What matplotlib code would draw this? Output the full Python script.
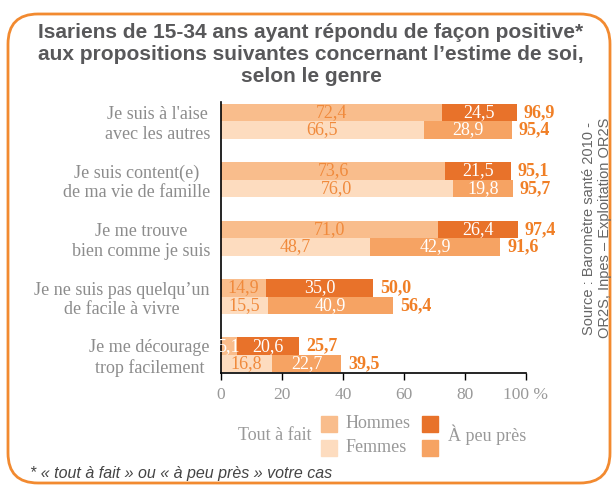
"""
Estime de soi des Isariens de 15-34 ans, selon le genre.
"""

import matplotlib
matplotlib.use("Agg")
import matplotlib.pyplot as plt
from matplotlib.patches import FancyBboxPatch, Rectangle

categories = [
    "Je suis à l'aise\navec les autres",
    "Je suis content(e)\nde ma vie de famille",
    "Je me trouve\nbien comme je suis",
    "Je ne suis pas quelqu’un\nde facile à vivre",
    "Je me décourage\ntrop facilement",
]
hommes_tout = [72.4, 73.6, 71.0, 14.9, 5.1]
hommes_peu = [24.5, 21.5, 26.4, 35.0, 20.6]
hommes_total = [96.9, 95.1, 97.4, 50.0, 25.7]
femmes_tout = [66.5, 76.0, 48.7, 15.5, 16.8]
femmes_peu = [28.9, 19.8, 42.9, 40.9, 22.7]
femmes_total = [95.4, 95.7, 91.6, 56.4, 39.5]
xticks = [0, 20, 40, 60, 80, 100]
xtick_labels = ["0", "20", "40", "60", "80", "100 %"]

# couleurs
C_H_TOUT = "#F9BD8C"
C_F_TOUT = "#FDDCBF"
C_H_PEU = "#E8722A"
C_F_PEU = "#F6A363"
C_TXT = "#F08A3C"
C_TOTAL = "#F07F26"
C_GREY = "#999999"
C_BORDER = "#F28A30"

SERIF = "Liberation Serif"
SANS = "Liberation Sans"


def fmt(v):
    return f"{v:.1f}".replace(".", ",")


fig = plt.figure(figsize=(6.13, 4.86), dpi=100)

# cadre arrondi (coordonnées en pixels)
bg = fig.add_axes([0, 0, 1, 1])
bg.set_xlim(0, 613)
bg.set_ylim(486, 0)
bg.axis("off")
bg.add_patch(FancyBboxPatch(
    (8, 14), 602, 469,
    boxstyle="round,pad=0,rounding_size=30",
    facecolor="white", edgecolor=C_BORDER, linewidth=2,
))

bg.text(
    311, 54,
    "Isariens de 15-34 ans ayant répondu de façon positive*\n"
    "aux propositions suivantes concernant l’estime de soi,\n"
    "selon le genre",
    ha="center", va="center", fontsize=15, fontweight="bold",
    family=SANS, color="#58585A", linespacing=1.2,
)

bg.text(
    30, 473, "* « tout à fait » ou « à peu près » votre cas",
    ha="left", va="center", fontsize=11.5, style="italic",
    family=SANS, color="#444444",
)

bg.text(
    597, 228, "Source : Baromètre santé 2010 -\nOR2S, Inpes – Exploitation OR2S",
    ha="center", va="center", rotation=90, fontsize=10.5,
    family=SANS, color="#666666", linespacing=1.1,
)

# légende
bg.text(311, 435, "Tout à fait", ha="right", va="center",
        fontsize=13, family=SERIF, color=C_GREY)
bg.add_patch(Rectangle((321, 416), 16, 16, color=C_H_TOUT))
bg.add_patch(Rectangle((321, 440), 16, 16, color=C_F_TOUT))
bg.text(346, 423, "Hommes", ha="left", va="center",
        fontsize=13, family=SERIF, color=C_GREY)
bg.text(346, 447, "Femmes", ha="left", va="center",
        fontsize=13, family=SERIF, color=C_GREY)
bg.add_patch(Rectangle((422, 416), 16, 16, color=C_H_PEU))
bg.add_patch(Rectangle((422, 440), 16, 16, color=C_F_PEU))
bg.text(448, 435, "À peu près", ha="left", va="center",
        fontsize=13, family=SERIF, color=C_GREY)

# graphique
ax = fig.add_axes([0.3605, 0.2325, 0.4975, 0.5575])
ax.patch.set_alpha(0)

h = 0.3
y = list(range(len(categories)))
y_h = [i - h / 2 for i in y]
y_f = [i + h / 2 for i in y]

ax.barh(y_h, hommes_tout, height=h, color=C_H_TOUT)
ax.barh(y_h, hommes_peu, left=hommes_tout, height=h, color=C_H_PEU)
ax.barh(y_f, femmes_tout, height=h, color=C_F_TOUT)
ax.barh(y_f, femmes_peu, left=femmes_tout, height=h, color=C_F_PEU)

for yy, tout, peu, tot in [(y_h[i], hommes_tout[i], hommes_peu[i], hommes_total[i]) for i in y] + \
        [(y_f[i], femmes_tout[i], femmes_peu[i], femmes_total[i]) for i in y]:
    ax.text(tout / 2, yy, fmt(tout), ha="center", va="center",
            fontsize=13, family=SERIF,
            color="white" if tout < 10 else C_TXT)
    ax.text(tout + peu / 2, yy, fmt(peu), ha="center", va="center",
            fontsize=13, family=SERIF, color="white")
    ax.annotate(fmt(tot), xy=(tot, yy), xytext=(5, 0),
                textcoords="offset points", ha="left", va="center",
                fontsize=13, fontweight="bold", family=SERIF, color=C_TOTAL)

ax.set_xlim(0, 100)
ax.set_ylim(4.31, -0.33)

ax.set_xticks(xticks)
ax.set_xticklabels(xtick_labels, fontsize=12.5, family=SERIF, color=C_GREY)
ax.set_yticks(y)
ax.set_yticklabels(categories, fontsize=13, family=SERIF, color="#8C8C8C",
                   multialignment="center")

ax.tick_params(axis="y", length=0, pad=8)
ax.tick_params(axis="x", length=5, width=1, direction="out", pad=5)

ax.spines["top"].set_visible(False)
ax.spines["right"].set_visible(False)
ax.spines["left"].set_linewidth(1.2)
ax.spines["bottom"].set_linewidth(1.2)

fig.savefig("out.png", dpi=100)
